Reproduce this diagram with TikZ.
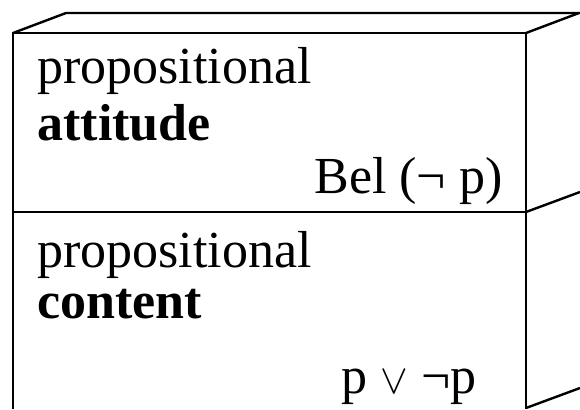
\documentclass[tikz,border=0pt]{standalone}
\usepackage{fontspec}
\setmainfont{Liberation Serif}
\usepackage{tikz}

\begin{document}
\begin{tikzpicture}[x=0.5pt,y=-0.5pt,
    boxline/.style={line width=1.2pt},
    txt/.style={inner sep=0pt,anchor=base west,font=\fontsize{26}{30}\selectfont}]
    \useasboundingbox (0,0) rectangle (580,409);
    % front face, open at the bottom
    \draw[boxline] (13,409) -- (13,33) -- (526,33) -- (526,409);
    \draw[boxline] (13,212) -- (526,212); % layer border
    % top and side edges
    \draw[boxline] (13,33) -- (66,13) -- (580,13);
    \draw[boxline] (526,33) -- (579,13);
    \draw[boxline] (526,212) -- (580,192);
    \draw[boxline] (526,408) -- (580,388);
    % upper layer
    \node[txt] (attprop) at (37,83) {propositional};
    \node[txt] (attword) at (37,140) {\bfseries attitude};
    \node[txt] (attform) at (314,193) {Bel (¬ p)};
    % lower layer
    \node[txt] (conprop) at (37,267) {propositional};
    \node[txt] (conword) at (37,318) {\bfseries content};
    \node[txt] (conform) at (341,393) {p {\fontsize{20}{24}\selectfont$\vee$} ¬p};
\end{tikzpicture}
\end{document}
